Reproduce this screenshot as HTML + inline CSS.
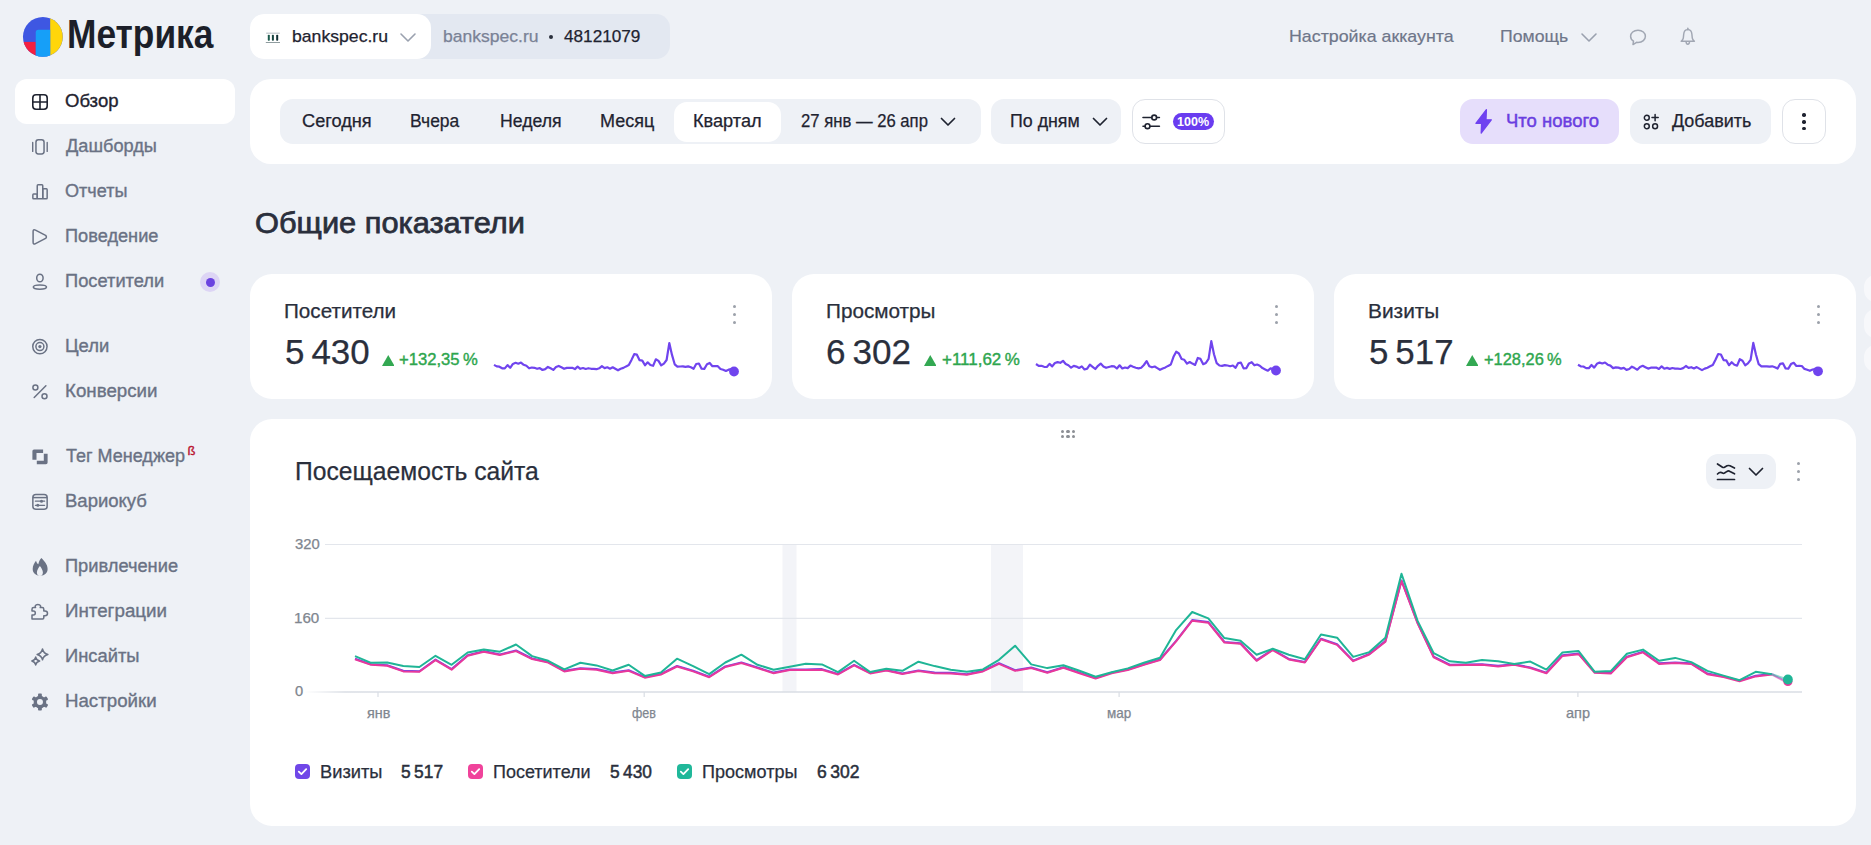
<!DOCTYPE html>
<html><head><meta charset="utf-8"><title>Метрика</title>
<style>
html,body{margin:0;padding:0;}
body{width:1871px;height:845px;background:#eef1f6;position:relative;overflow:hidden;font-family:"Liberation Sans", sans-serif;}
.t{position:absolute;line-height:1;white-space:nowrap;}
</style></head><body>
<svg style="position:absolute;left:22px;top:16px;" width="42" height="42" viewBox="0 0 42 42">
<defs><clipPath id="lc"><circle cx="20.85" cy="20.85" r="19.9"/></clipPath></defs>
<g clip-path="url(#lc)">
<rect x="0" y="0" width="42" height="42" fill="#3e57e2"/>
<rect x="28.2" y="0" width="14" height="42" fill="#ffd60a"/>
<rect x="0" y="25.9" width="13.75" height="17" fill="#f42041"/>
<path d="M16.25 13.75 H28.2 V42 H13.75 V16.25 Q13.75 13.75 16.25 13.75 Z" fill="#169ff8"/>
</g></svg>
<div style="position:absolute;left:250px;top:14px;width:420px;height:44.5px;background:#e3e8f1;border-radius:14px;"></div>
<div style="position:absolute;left:250px;top:14px;width:181px;height:44.5px;background:#ffffff;border-radius:14px;"></div>
<svg style="position:absolute;left:265px;top:28px;" width="17" height="17" viewBox="0 0 17 17"><rect x="2.8" y="6.7" width="2" height="6.1" rx="0.8" fill="#1b5a4c"/><rect x="6.9" y="6.7" width="2" height="6.1" rx="0.8" fill="#16443f"/>
<rect x="11.2" y="6.7" width="2" height="6.1" rx="0.8" fill="#0f2f33"/><rect x="0.8" y="14" width="14.2" height="1" fill="#8f9c9f"/><rect x="1.2" y="4.7" width="13.6" height="0.9" fill="#a9b3b8"/></svg>
<svg style="position:absolute;left:399px;top:31px;" width="18" height="12" viewBox="0 0 18 12"><path d="M2 3 L9 10 L16 3" fill="none" stroke="#9aa1af" stroke-width="1.6" stroke-linecap="round" stroke-linejoin="round"/></svg>
<div style="position:absolute;left:549px;top:34.7px;width:4px;height:4px;background:#2a2f3c;border-radius:50%;"></div>
<svg style="position:absolute;left:1580px;top:31px;" width="18" height="12" viewBox="0 0 18 12"><path d="M2 3 L9 10 L16 3" fill="none" stroke="#9aa1af" stroke-width="1.6" stroke-linecap="round" stroke-linejoin="round"/></svg>
<svg style="position:absolute;left:1628px;top:27px;" width="20" height="20" viewBox="0 0 20 20"><path d="M10 3.2 C5.6 3.2 2.6 5.9 2.6 9.3 C2.6 11.4 3.7 13.1 5.5 14.2 L5 17.6 L8.6 15.3 C9.1 15.4 9.5 15.4 10 15.4 C14.4 15.4 17.4 12.7 17.4 9.3 C17.4 5.9 14.4 3.2 10 3.2 Z" fill="none" stroke="#a1a7b3" stroke-width="1.5" stroke-linejoin="round"/></svg>
<svg style="position:absolute;left:1678px;top:26px;" width="20" height="21" viewBox="0 0 20 21"><path d="M9.8 3.6 C7.2 3.6 5.9 5.6 5.7 8.3 L5.3 12.1 C5.1 13.6 4.2 14.4 3.2 15.3 H16.4 C15.4 14.4 14.5 13.6 14.3 12.1 L13.9 8.3 C13.7 5.6 12.4 3.6 9.8 3.6 Z" fill="none" stroke="#a1a7b3" stroke-width="1.45" stroke-linejoin="round"/><path d="M8.1 15.6 Q8.1 18.3 9.8 18.3 Q11.5 18.3 11.5 15.6" fill="none" stroke="#a1a7b3" stroke-width="1.45"/><path d="M9.8 2.2 V3.6" stroke="#a1a7b3" stroke-width="1.6" stroke-linecap="round"/></svg>
<div style="position:absolute;left:15px;top:79px;width:219.5px;height:45px;background:#ffffff;border-radius:12px;"></div>
<svg style="position:absolute;left:0;top:0" width="250" height="845">
<rect x="32.8" y="94.8" width="14.4" height="14.4" rx="3.2" fill="none" stroke="#1f2330" stroke-width="1.6"/>
<path d="M40 94.8 V109.2 M32.8 102 H47.2" stroke="#1f2330" stroke-width="1.6"/>
<rect x="35.95" y="139.75" width="8.1" height="14.2" rx="2.4" fill="none" stroke="#6a7284" stroke-width="1.5"/>
<path d="M32.7 142.4 V151.4 M47.2 142.4 V151.4" stroke="#6a7284" stroke-width="1.4" stroke-linecap="round"/>
<g fill="none" stroke="#6a7284" stroke-width="1.5" stroke-linejoin="round">
<rect x="32.85" y="194.1" width="4.4" height="4.75" rx="0.8"/>
<rect x="37.25" y="184.85" width="5.5" height="14" rx="0.8"/>
<rect x="42.75" y="188.85" width="4.4" height="10" rx="0.8"/>
<path d="M33.1 231.6 Q33.1 228.9 35.5 230.2 L45.6 235.4 Q47.2 236.9 45.6 238.4 L35.5 243.6 Q33.1 244.9 33.1 242.2 Z"/>
<ellipse cx="39.9" cy="278" rx="3.2" ry="3.85"/>
<ellipse cx="39.9" cy="287.1" rx="6.6" ry="2.15"/>
<circle cx="39.9" cy="346.6" r="7.15"/>
<circle cx="39.9" cy="346.6" r="4"/>
<circle cx="35.4" cy="387.4" r="2.5"/>
<circle cx="44.5" cy="396.3" r="2.5"/>
<path d="M34.2 397.5 L45.9 385.8" stroke-linecap="round"/>
<rect x="32.85" y="494.55" width="14.3" height="14.6" rx="3"/>
<path d="M32.85 497.6 H47.15" />
<path d="M35.4 501.2 H44.6 M35.4 505.3 H44.6" stroke-width="1.3" stroke-linecap="round"/>
<path d="M32.0 619.0 V614.9 H33.4 Q35.3 614.9 35.3 612.9 Q35.3 610.9 33.4 610.9 H32.0 V609.2 Q32.0 607.6 33.6 607.6 H35.6 Q35.0 606.8 35.3 605.8 Q35.9 604.4 37.9 604.4 Q39.9 604.4 40.5 605.8 Q40.8 606.8 40.2 607.6 H42.2 Q43.8 607.6 43.8 609.2 V610.9 H45.0 Q47.5 610.9 47.5 613.3 Q47.5 615.8 45.0 615.8 H43.8 V617.8 Q43.8 619.0 42.6 619.0 Z"/>
<path d="M42.5 649.0 Q43.472 653.428 47.9 654.4 Q43.472 655.372 42.5 659.8 Q41.528 655.372 37.1 654.4 Q41.528 653.428 42.5 649.0 Z"/>
<path d="M35.7 657.1 Q36.402 660.298 39.6 661.0 Q36.402 661.702 35.7 664.9 Q34.998000000000005 661.702 31.800000000000004 661.0 Q34.998000000000005 660.298 35.7 657.1 Z"/>
</g>
<circle cx="39.9" cy="346.6" r="1.6" fill="#6a7284"/>
<circle cx="41.5" cy="501.2" r="1.5" fill="#6a7284"/>
<circle cx="37.8" cy="505.3" r="1.5" fill="#6a7284"/>
<path d="M34 449.4 H43.1 V452.9 H36.5 V459.8 H32.4 V451 Q32.4 449.4 34 449.4 Z" fill="#6a7284"/>
<path d="M36.8 460.8 H43.8 V453.7 H47.6 V462.6 Q47.6 464.2 46 464.2 H36.8 Z" fill="#6a7284"/>
<path d="M41.4 558.1 C44 561 47.6 564.3 47.6 568.9 C47.6 572.8 44.8 575.6 40.2 575.6 C35.6 575.6 32.7 572.8 32.7 568.9 C32.7 565.6 34.3 563.3 36 560.8 C36.6 562.6 37.3 563.6 38.3 564.3 C38.8 561.8 39.8 559.8 41.4 558.1 Z" fill="#6a7284"/>
<path d="M39.9 565.9 C41.1 567.6 42.9 569.8 42.9 572.4 C42.9 574.6 41.5 576 39.9 576 C38.3 576 36.9 574.6 36.9 572.4 C36.9 569.8 38.7 567.6 39.9 565.9 Z" fill="#eef1f6"/>
<circle cx="39.95" cy="702.1" r="6.3" fill="#6a7284"/>
<rect x="38.05" y="693.6" width="3.8" height="4" rx="0.8" fill="#6a7284" transform="rotate(0 39.95 702.1)"/><rect x="38.05" y="693.6" width="3.8" height="4" rx="0.8" fill="#6a7284" transform="rotate(60 39.95 702.1)"/><rect x="38.05" y="693.6" width="3.8" height="4" rx="0.8" fill="#6a7284" transform="rotate(120 39.95 702.1)"/><rect x="38.05" y="693.6" width="3.8" height="4" rx="0.8" fill="#6a7284" transform="rotate(180 39.95 702.1)"/><rect x="38.05" y="693.6" width="3.8" height="4" rx="0.8" fill="#6a7284" transform="rotate(240 39.95 702.1)"/><rect x="38.05" y="693.6" width="3.8" height="4" rx="0.8" fill="#6a7284" transform="rotate(300 39.95 702.1)"/>
<circle cx="39.95" cy="702.1" r="3.0" fill="#eef1f6"/>
</svg>
<div style="position:absolute;left:200px;top:272px;width:20px;height:20px;background:#ddd5f5;border-radius:50%;"></div>
<div style="position:absolute;left:205.5px;top:277.5px;width:9px;height:9px;background:#6b43e0;border-radius:50%;"></div>
<div class="t" style="left:187.6px;top:444px;font-size:13px;color:#b9142e;font-weight:400;-webkit-text-stroke:0.35px #b9142e;">ß</div>
<div style="position:absolute;left:250px;top:79px;width:1606px;height:85px;background:#ffffff;border-radius:21px;"></div>
<div style="position:absolute;left:280px;top:99px;width:700.5px;height:44.5px;background:#eef1f6;border-radius:13px;"></div>
<div style="position:absolute;left:674px;top:102px;width:107px;height:40px;background:#ffffff;border-radius:13px;"></div>
<svg style="position:absolute;left:939px;top:115px;" width="18" height="13" viewBox="0 0 18 13"><path d="M2.5 3.5 L9 10 L15.5 3.5" fill="none" stroke="#1f2330" stroke-width="1.7" stroke-linecap="round" stroke-linejoin="round"/></svg>
<div style="position:absolute;left:991px;top:99px;width:130px;height:44.5px;background:#eef1f6;border-radius:13px;"></div>
<svg style="position:absolute;left:1091px;top:115px;" width="18" height="13" viewBox="0 0 18 13"><path d="M2.5 3.5 L9 10 L15.5 3.5" fill="none" stroke="#1f2330" stroke-width="1.7" stroke-linecap="round" stroke-linejoin="round"/></svg>
<div style="position:absolute;left:1131.5px;top:99px;width:91.5px;height:42.5px;background:#fff;border:1px solid #dfe2e8;border-radius:13px;"></div>
<svg style="position:absolute;left:1141px;top:112px;" width="20" height="18" viewBox="0 0 20 18"><path d="M2 5.5 H10.8 M15.6 5.5 H18.4 M2 14.2 H4.1 M8.9 14.2 H18.4" stroke="#1f2330" stroke-width="1.6" stroke-linecap="round"/><circle cx="13.2" cy="5.5" r="2.4" fill="none" stroke="#1f2330" stroke-width="1.6"/><circle cx="6.5" cy="14.2" r="2.4" fill="none" stroke="#1f2330" stroke-width="1.6"/></svg>
<div style="position:absolute;left:1173px;top:113px;width:41px;height:16.8px;background:#6a3cf0;border-radius:9px;"></div>
<div style="position:absolute;left:1460px;top:99px;width:159px;height:45px;background:#e6defb;border-radius:13px;"></div>
<svg style="position:absolute;left:1473px;top:107px;" width="21" height="29" viewBox="0 0 21 29"><path d="M13.4 2.6 L2.9 16.3 H8.6 L8.2 26.0 L18.3 12.8 H13.0 Z" fill="#6f42f0" stroke="#6f42f0" stroke-width="1.3" stroke-linejoin="round"/></svg>
<div style="position:absolute;left:1629.5px;top:99px;width:141.5px;height:45px;background:#eef1f6;border-radius:13px;"></div>
<svg style="position:absolute;left:1642px;top:113px;" width="18" height="17" viewBox="0 0 18 17"><circle cx="4.8" cy="4.7" r="2.45" fill="none" stroke="#1f2330" stroke-width="1.5"/><circle cx="4.8" cy="13.2" r="2.45" fill="none" stroke="#1f2330" stroke-width="1.5"/><circle cx="13.1" cy="13.2" r="2.45" fill="none" stroke="#1f2330" stroke-width="1.5"/><path d="M13.1 1.5 V7.7 M10.0 4.6 H16.2" stroke="#1f2330" stroke-width="1.5" stroke-linecap="round"/></svg>
<div style="position:absolute;left:1781.5px;top:99px;width:42px;height:43px;background:#fff;border:1px solid #dfe2e8;border-radius:13px;"></div>
<div style="position:absolute;left:1802.3px;top:113.3px;width:3.4px;height:3.4px;background:#1f2330;border-radius:50%;"></div>
<div style="position:absolute;left:1802.3px;top:120.3px;width:3.4px;height:3.4px;background:#1f2330;border-radius:50%;"></div>
<div style="position:absolute;left:1802.3px;top:127.10000000000001px;width:3.4px;height:3.4px;background:#1f2330;border-radius:50%;"></div>
<div style="position:absolute;left:250px;top:274px;width:522px;height:125px;background:#ffffff;border-radius:22px;"></div>
<div style="position:absolute;left:732.6999999999999px;top:304.8px;width:3.4px;height:3.4px;background:#9ca1aa;border-radius:50%;"></div>
<div style="position:absolute;left:732.6999999999999px;top:312.8px;width:3.4px;height:3.4px;background:#9ca1aa;border-radius:50%;"></div>
<div style="position:absolute;left:732.6999999999999px;top:320.7px;width:3.4px;height:3.4px;background:#9ca1aa;border-radius:50%;"></div>
<div style="position:absolute;left:792px;top:274px;width:522px;height:125px;background:#ffffff;border-radius:22px;"></div>
<div style="position:absolute;left:1274.7px;top:304.8px;width:3.4px;height:3.4px;background:#9ca1aa;border-radius:50%;"></div>
<div style="position:absolute;left:1274.7px;top:312.8px;width:3.4px;height:3.4px;background:#9ca1aa;border-radius:50%;"></div>
<div style="position:absolute;left:1274.7px;top:320.7px;width:3.4px;height:3.4px;background:#9ca1aa;border-radius:50%;"></div>
<div style="position:absolute;left:1334px;top:274px;width:522px;height:125px;background:#ffffff;border-radius:22px;"></div>
<div style="position:absolute;left:1816.7px;top:304.8px;width:3.4px;height:3.4px;background:#9ca1aa;border-radius:50%;"></div>
<div style="position:absolute;left:1816.7px;top:312.8px;width:3.4px;height:3.4px;background:#9ca1aa;border-radius:50%;"></div>
<div style="position:absolute;left:1816.7px;top:320.7px;width:3.4px;height:3.4px;background:#9ca1aa;border-radius:50%;"></div>
<svg style="position:absolute;left:381.7px;top:354.5px;" width="12.5" height="11" viewBox="0 0 12.5 11"><path d="M6.25 0 L12.5 11 H0 Z" fill="#33a852"/></svg>
<svg style="position:absolute;left:923.8px;top:354.5px;" width="12.5" height="11" viewBox="0 0 12.5 11"><path d="M6.25 0 L12.5 11 H0 Z" fill="#33a852"/></svg>
<svg style="position:absolute;left:1465.8px;top:354.5px;" width="12.5" height="11" viewBox="0 0 12.5 11"><path d="M6.25 0 L12.5 11 H0 Z" fill="#33a852"/></svg>
<svg style="position:absolute;left:0;top:0" width="1871" height="845"><path d="M494.0 364.9 L496.7 366.4 L499.4 366.7 L502.1 368.3 L504.8 368.4 L507.5 365.1 L510.2 367.8 L512.9 363.9 L515.6 362.8 L518.3 363.7 L521.0 362.6 L523.7 364.8 L526.4 365.8 L529.1 368.3 L531.8 367.5 L534.4 367.8 L537.1 368.8 L539.8 368.1 L542.5 370.0 L545.2 369.1 L547.9 366.9 L550.6 368.3 L553.3 369.9 L556.0 367.0 L558.7 365.9 L561.4 367.3 L564.1 368.8 L566.8 367.9 L569.5 367.9 L572.2 367.8 L574.9 369.1 L577.6 366.6 L580.3 368.8 L583.0 368.0 L585.7 369.0 L588.4 368.2 L591.1 368.8 L593.8 368.8 L596.5 369.2 L599.2 368.3 L601.9 366.2 L604.6 368.1 L607.3 367.3 L610.0 368.7 L612.7 367.3 L615.3 368.8 L618.0 370.3 L620.7 368.8 L623.4 367.9 L626.1 366.4 L628.8 365.1 L631.5 359.9 L634.2 354.2 L636.9 354.7 L639.6 360.2 L642.3 360.6 L645.0 365.3 L647.7 362.3 L650.4 365.0 L653.1 365.8 L655.8 359.3 L658.5 360.9 L661.2 365.4 L663.9 363.6 L666.6 360.0 L669.3 343.1 L672.0 354.9 L674.7 364.3 L677.4 366.6 L680.1 366.5 L682.8 366.4 L685.5 366.9 L688.2 366.4 L690.9 367.3 L693.6 368.8 L696.2 364.0 L698.9 363.5 L701.6 368.7 L704.3 368.9 L707.0 364.3 L709.7 363.0 L712.4 366.2 L715.1 366.0 L717.8 366.2 L720.5 369.0 L723.2 369.8 L725.9 371.0 L728.6 369.7 L731.3 369.2 L734.0 371.5" fill="none" stroke="#7044ee" stroke-width="2.2" stroke-linejoin="round"/><circle cx="734.0" cy="371.5" r="4.9" fill="#7044ee"/></svg>
<svg style="position:absolute;left:0;top:0" width="1871" height="845"><path d="M1036.0 364.0 L1038.7 365.9 L1041.4 365.8 L1044.1 366.8 L1046.8 367.0 L1049.5 363.9 L1052.2 366.4 L1054.9 363.0 L1057.6 362.1 L1060.3 362.8 L1063.0 360.8 L1065.7 364.0 L1068.4 365.3 L1071.1 367.7 L1073.8 365.9 L1076.4 366.6 L1079.1 368.0 L1081.8 366.4 L1084.5 369.5 L1087.2 368.6 L1089.9 364.7 L1092.6 366.8 L1095.3 369.0 L1098.0 365.8 L1100.7 363.6 L1103.4 366.4 L1106.1 367.8 L1108.8 367.0 L1111.5 366.2 L1114.2 366.3 L1116.9 368.5 L1119.6 365.3 L1122.3 368.5 L1125.0 367.5 L1127.7 368.1 L1130.4 365.6 L1133.1 366.8 L1135.8 367.8 L1138.5 368.4 L1141.2 367.7 L1143.9 365.0 L1146.6 361.1 L1149.3 366.3 L1152.0 367.3 L1154.7 366.5 L1157.3 368.1 L1160.0 369.8 L1162.7 368.5 L1165.4 367.4 L1168.1 365.9 L1170.8 364.5 L1173.5 356.8 L1176.2 351.7 L1178.9 353.5 L1181.6 359.0 L1184.3 359.8 L1187.0 363.6 L1189.7 362.0 L1192.4 363.6 L1195.1 364.9 L1197.8 358.0 L1200.5 358.9 L1203.2 364.2 L1205.9 362.9 L1208.6 358.9 L1211.3 341.1 L1214.0 354.2 L1216.7 363.2 L1219.4 365.5 L1222.1 365.9 L1224.8 365.1 L1227.5 365.5 L1230.2 366.2 L1232.9 365.5 L1235.6 367.8 L1238.2 363.0 L1240.9 362.6 L1243.6 368.4 L1246.3 368.2 L1249.0 363.4 L1251.7 362.2 L1254.4 365.3 L1257.1 364.5 L1259.8 365.7 L1262.5 368.1 L1265.2 369.4 L1267.9 370.7 L1270.6 368.4 L1273.3 369.0 L1276.0 370.5" fill="none" stroke="#7044ee" stroke-width="2.2" stroke-linejoin="round"/><circle cx="1276.0" cy="370.5" r="4.9" fill="#7044ee"/></svg>
<svg style="position:absolute;left:0;top:0" width="1871" height="845"><path d="M1578.0 364.8 L1580.7 366.3 L1583.4 366.5 L1586.1 368.1 L1588.8 368.2 L1591.5 365.0 L1594.2 367.6 L1596.9 363.8 L1599.6 362.6 L1602.3 363.5 L1605.0 362.5 L1607.7 364.7 L1610.4 365.6 L1613.1 368.1 L1615.8 367.4 L1618.4 367.6 L1621.1 368.6 L1623.8 367.9 L1626.5 369.9 L1629.2 369.0 L1631.9 366.7 L1634.6 368.1 L1637.3 369.7 L1640.0 366.9 L1642.7 365.8 L1645.4 367.2 L1648.1 368.6 L1650.8 367.7 L1653.5 367.7 L1656.2 367.6 L1658.9 369.0 L1661.6 366.4 L1664.3 368.7 L1667.0 367.9 L1669.7 368.9 L1672.4 368.0 L1675.1 368.6 L1677.8 368.7 L1680.5 369.0 L1683.2 368.1 L1685.9 366.0 L1688.6 367.9 L1691.3 367.2 L1694.0 368.5 L1696.7 367.1 L1699.3 368.6 L1702.0 370.1 L1704.7 368.6 L1707.4 367.7 L1710.1 366.3 L1712.8 365.0 L1715.5 359.8 L1718.2 354.0 L1720.9 354.5 L1723.6 360.1 L1726.3 360.4 L1729.0 365.2 L1731.7 362.2 L1734.4 364.8 L1737.1 365.6 L1739.8 359.2 L1742.5 360.7 L1745.2 365.3 L1747.9 363.4 L1750.6 359.8 L1753.3 342.9 L1756.0 354.7 L1758.7 364.2 L1761.4 366.4 L1764.1 366.3 L1766.8 366.3 L1769.5 366.7 L1772.2 366.3 L1774.9 367.2 L1777.6 368.6 L1780.2 363.8 L1782.9 363.3 L1785.6 368.5 L1788.3 368.7 L1791.0 364.1 L1793.7 362.8 L1796.4 366.0 L1799.1 365.8 L1801.8 366.0 L1804.5 368.9 L1807.2 369.7 L1809.9 370.8 L1812.6 369.5 L1815.3 369.0 L1818.0 371.3" fill="none" stroke="#7044ee" stroke-width="2.2" stroke-linejoin="round"/><circle cx="1818.0" cy="371.3" r="4.9" fill="#7044ee"/></svg>
<div style="position:absolute;left:1864px;top:275px;width:30px;height:27px;background:#f7f8fb;border-radius:12px;"></div>
<div style="position:absolute;left:1864px;top:309px;width:30px;height:29px;background:#f7f8fb;border-radius:12px;"></div>
<div style="position:absolute;left:1864px;top:345px;width:30px;height:27px;background:#f7f8fb;border-radius:12px;"></div>
<div style="position:absolute;left:250px;top:419px;width:1606px;height:407px;background:#ffffff;border-radius:22px;"></div>
<div style="position:absolute;left:1060.75px;top:429.55px;width:3.3px;height:3.3px;background:#8c8f95;border-radius:50%;"></div>
<div style="position:absolute;left:1066.3px;top:429.55px;width:3.3px;height:3.3px;background:#8c8f95;border-radius:50%;"></div>
<div style="position:absolute;left:1071.85px;top:429.55px;width:3.3px;height:3.3px;background:#8c8f95;border-radius:50%;"></div>
<div style="position:absolute;left:1060.75px;top:435.05px;width:3.3px;height:3.3px;background:#8c8f95;border-radius:50%;"></div>
<div style="position:absolute;left:1066.3px;top:435.05px;width:3.3px;height:3.3px;background:#8c8f95;border-radius:50%;"></div>
<div style="position:absolute;left:1071.85px;top:435.05px;width:3.3px;height:3.3px;background:#8c8f95;border-radius:50%;"></div>
<div style="position:absolute;left:1706px;top:454px;width:70px;height:35px;background:#eef1f6;border-radius:12px;"></div>
<svg style="position:absolute;left:1716px;top:462px;" width="20" height="20" viewBox="0 0 20 20"><path d="M1.5 2 L6.5 5.2 Q7.5 5.8 8.5 5.2 L11 3.8 Q12.5 3.2 14 3.8 L18.5 6" fill="none" stroke="#1f2330" stroke-width="1.7" stroke-linecap="round"/><path d="M1.5 12 Q4 9.5 6.5 11 Q7.5 11.6 8.5 11 L11 9.4 Q12.5 8.5 14 9.5 L18.5 11.8" fill="none" stroke="#1f2330" stroke-width="1.7" stroke-linecap="round"/><path d="M1.5 17.5 H18.5" stroke="#1f2330" stroke-width="1.7" stroke-linecap="round"/></svg>
<svg style="position:absolute;left:1747px;top:466px;" width="18" height="12" viewBox="0 0 18 12"><path d="M2.5 2.5 L9 9 L15.5 2.5" fill="none" stroke="#1f2330" stroke-width="1.7" stroke-linecap="round" stroke-linejoin="round"/></svg>
<div style="position:absolute;left:1796.7px;top:462.1px;width:3.4px;height:3.4px;background:#9ca1aa;border-radius:50%;"></div>
<div style="position:absolute;left:1796.7px;top:469.90000000000003px;width:3.4px;height:3.4px;background:#9ca1aa;border-radius:50%;"></div>
<div style="position:absolute;left:1796.7px;top:477.6px;width:3.4px;height:3.4px;background:#9ca1aa;border-radius:50%;"></div>
<svg style="position:absolute;left:0;top:0" width="1871" height="845"><rect x="782.5" y="544.5" width="14" height="147.5" fill="#f3f4f8"/><rect x="991" y="544.5" width="32" height="147.5" fill="#f3f4f8"/><path d="M325 544.5 H1802" stroke="#e3e6ec" stroke-width="1.2"/><path d="M325 618.4 H1802" stroke="#e3e6ec" stroke-width="1.2"/><defs><linearGradient id="axg" gradientUnits="userSpaceOnUse" x1="304" y1="0" x2="345" y2="0"><stop offset="0" stop-color="#d9dde4" stop-opacity="0"/><stop offset="1" stop-color="#d9dde4" stop-opacity="1"/></linearGradient></defs><path d="M304 692 H1802" stroke="url(#axg)" stroke-width="1.6"/><path d="M378.0 692 V697" stroke="#d9dde4" stroke-width="1.2"/><path d="M644.2 692 V697" stroke="#d9dde4" stroke-width="1.2"/><path d="M1119.1 692 V697" stroke="#d9dde4" stroke-width="1.2"/><path d="M1577.9 692 V697" stroke="#d9dde4" stroke-width="1.2"/><path d="M355.0 658.8 L371.1 664.2 L387.2 665.2 L403.3 670.8 L419.4 671.2 L435.5 659.5 L451.6 669.1 L467.7 655.2 L483.8 651.1 L499.9 654.4 L516.0 650.5 L532.1 658.5 L548.2 661.9 L564.3 670.8 L580.4 668.2 L596.5 669.1 L612.6 672.6 L628.7 670.2 L644.8 677.1 L660.9 673.9 L677.0 665.9 L693.1 670.8 L709.2 676.6 L725.3 666.4 L741.4 662.4 L757.5 667.5 L773.6 672.6 L789.7 669.5 L805.8 669.5 L821.9 669.1 L838.0 673.9 L854.1 664.8 L870.2 672.8 L886.3 669.9 L902.4 673.5 L918.5 670.4 L934.6 672.6 L950.7 672.8 L966.8 674.2 L982.9 670.8 L999.0 663.2 L1015.1 670.2 L1031.2 667.5 L1047.3 672.2 L1063.4 667.2 L1079.5 672.6 L1095.6 678.0 L1111.7 672.6 L1127.8 669.5 L1143.9 664.2 L1160.0 659.5 L1176.1 640.8 L1192.2 620.1 L1208.3 622.1 L1224.4 641.9 L1240.5 643.2 L1256.6 660.2 L1272.7 649.5 L1288.8 658.9 L1304.9 661.9 L1321.0 638.7 L1337.1 644.3 L1353.2 660.6 L1369.3 653.9 L1385.4 641.1 L1401.5 580.4 L1417.6 622.7 L1433.7 656.7 L1449.8 664.7 L1465.9 664.4 L1482.0 664.2 L1498.1 665.8 L1514.2 664.2 L1530.3 667.4 L1546.4 672.7 L1562.5 655.3 L1578.6 653.6 L1594.7 672.2 L1610.8 673.0 L1626.9 656.6 L1643.0 651.8 L1659.1 663.3 L1675.2 662.5 L1691.3 663.3 L1707.4 673.6 L1723.5 676.4 L1739.6 680.6 L1755.7 675.8 L1771.8 674.0" fill="none" stroke="#7047e8" stroke-width="2.0" stroke-linejoin="round"/><path d="M1771.8 674.0 L1787.9 682.4" fill="none" stroke="#7047e8" stroke-width="2.0" opacity="0.45"/><path d="M355.0 659.4 L371.1 664.8 L387.2 665.8 L403.3 671.4 L419.4 671.8 L435.5 660.1 L451.6 669.7 L467.7 655.8 L483.8 651.7 L499.9 655.0 L516.0 651.1 L532.1 659.1 L548.2 662.5 L564.3 671.4 L580.4 668.8 L596.5 669.7 L612.6 673.2 L628.7 670.8 L644.8 677.7 L660.9 674.5 L677.0 666.5 L693.1 671.4 L709.2 677.2 L725.3 667.0 L741.4 663.0 L757.5 668.1 L773.6 673.2 L789.7 670.1 L805.8 670.1 L821.9 669.7 L838.0 674.5 L854.1 665.4 L870.2 673.4 L886.3 670.5 L902.4 674.1 L918.5 671.0 L934.6 673.2 L950.7 673.4 L966.8 674.8 L982.9 671.4 L999.0 663.8 L1015.1 670.8 L1031.2 668.1 L1047.3 672.8 L1063.4 667.8 L1079.5 673.2 L1095.6 678.6 L1111.7 673.2 L1127.8 670.1 L1143.9 664.8 L1160.0 660.1 L1176.1 641.4 L1192.2 620.7 L1208.3 622.7 L1224.4 642.5 L1240.5 643.8 L1256.6 660.8 L1272.7 650.1 L1288.8 659.5 L1304.9 662.5 L1321.0 639.3 L1337.1 644.9 L1353.2 661.2 L1369.3 654.5 L1385.4 641.7 L1401.5 581.0 L1417.6 623.3 L1433.7 657.3 L1449.8 665.3 L1465.9 665.0 L1482.0 664.8 L1498.1 666.4 L1514.2 664.8 L1530.3 668.0 L1546.4 673.3 L1562.5 655.9 L1578.6 654.2 L1594.7 672.8 L1610.8 673.6 L1626.9 657.2 L1643.0 652.4 L1659.1 663.9 L1675.2 663.1 L1691.3 663.9 L1707.4 674.2 L1723.5 677.0 L1739.6 681.2 L1755.7 676.4 L1771.8 674.6" fill="none" stroke="#e8389b" stroke-width="2.0" stroke-linejoin="round"/><path d="M1771.8 674.6 L1787.9 683.0" fill="none" stroke="#e8389b" stroke-width="2.0" opacity="0.45"/><path d="M355.0 656.1 L371.1 662.8 L387.2 662.5 L403.3 666.1 L419.4 667.0 L435.5 655.8 L451.6 664.8 L467.7 652.5 L483.8 649.4 L499.9 651.7 L516.0 644.5 L532.1 656.1 L548.2 660.8 L564.3 669.4 L580.4 662.8 L596.5 665.4 L612.6 670.5 L628.7 664.8 L644.8 675.9 L660.9 672.5 L677.0 658.7 L693.1 666.1 L709.2 674.1 L725.3 662.5 L741.4 654.7 L757.5 664.8 L773.6 669.7 L789.7 666.8 L805.8 663.8 L821.9 664.4 L838.0 672.1 L854.1 660.8 L870.2 672.1 L886.3 668.8 L902.4 670.8 L918.5 661.7 L934.6 666.1 L950.7 669.7 L966.8 671.8 L982.9 669.4 L999.0 659.8 L1015.1 645.7 L1031.2 664.4 L1047.3 668.1 L1063.4 665.2 L1079.5 670.8 L1095.6 676.8 L1111.7 672.2 L1127.8 668.4 L1143.9 662.8 L1160.0 657.7 L1176.1 630.1 L1192.2 612.0 L1208.3 618.4 L1224.4 638.1 L1240.5 640.8 L1256.6 654.8 L1272.7 648.8 L1288.8 654.8 L1304.9 659.2 L1321.0 634.5 L1337.1 637.7 L1353.2 656.9 L1369.3 652.1 L1385.4 637.7 L1401.5 573.8 L1417.6 620.9 L1433.7 653.2 L1449.8 661.3 L1465.9 662.8 L1482.0 660.0 L1498.1 661.3 L1514.2 664.0 L1530.3 661.6 L1546.4 669.6 L1562.5 652.4 L1578.6 651.0 L1594.7 671.8 L1610.8 671.1 L1626.9 653.8 L1643.0 649.6 L1659.1 660.7 L1675.2 657.9 L1691.3 662.1 L1707.4 670.9 L1723.5 675.6 L1739.6 680.2 L1755.7 671.8 L1771.8 674.2" fill="none" stroke="#1fb596" stroke-width="2.0" stroke-linejoin="round"/><path d="M1771.8 674.2 L1787.9 679.5" fill="none" stroke="#1fb596" stroke-width="2.0" opacity="0.45"/><circle cx="1787.9" cy="681.5" r="4.6" fill="#e8389b"/><circle cx="1787.9" cy="679.5" r="4.9" fill="#1fb596"/></svg>
<svg style="position:absolute;left:295px;top:764px;" width="15" height="15" viewBox="0 0 15 15"><rect x="0" y="0" width="15" height="15" rx="4" fill="#7047e8"/><path d="M3.8 7.6 L6.4 10.1 L11.2 5.2" fill="none" stroke="#fff" stroke-width="1.8" stroke-linecap="round" stroke-linejoin="round"/></svg>
<svg style="position:absolute;left:468.3px;top:764px;" width="15" height="15" viewBox="0 0 15 15"><rect x="0" y="0" width="15" height="15" rx="4" fill="#f0439b"/><path d="M3.8 7.6 L6.4 10.1 L11.2 5.2" fill="none" stroke="#fff" stroke-width="1.8" stroke-linecap="round" stroke-linejoin="round"/></svg>
<svg style="position:absolute;left:677px;top:764px;" width="15" height="15" viewBox="0 0 15 15"><rect x="0" y="0" width="15" height="15" rx="4" fill="#20b89a"/><path d="M3.8 7.6 L6.4 10.1 L11.2 5.2" fill="none" stroke="#fff" stroke-width="1.8" stroke-linecap="round" stroke-linejoin="round"/></svg>
<div class="t" id="logo" style="left:67.43px;top:14.00px;font-size:41px;color:#1c1f29;font-weight:700;transform:scaleX(0.8609);transform-origin:0 0;">Метрика</div>
<div class="t" id="site1" style="left:292.26px;top:28.00px;font-size:17px;color:#1f2330;font-weight:400;transform:scaleX(1.0369);transform-origin:0 0;-webkit-text-stroke:0.25px #1f2330;">bankspec.ru</div>
<div class="t" id="site2" style="left:442.97px;top:28.00px;font-size:17px;color:#7a8296;font-weight:400;transform:scaleX(1.0314);transform-origin:0 0;-webkit-text-stroke:0.25px #7a8296;">bankspec.ru</div>
<div class="t" id="cid" style="left:564.05px;top:28.00px;font-size:17px;color:#1f2330;font-weight:400;transform:scaleX(1.0100);transform-origin:0 0;-webkit-text-stroke:0.25px #1f2330;">48121079</div>
<div class="t" id="acc" style="left:1289.39px;top:28.00px;font-size:17px;color:#6e7689;font-weight:400;transform:scaleX(1.0464);transform-origin:0 0;-webkit-text-stroke:0.2px #6e7689;">Настройка аккаунта</div>
<div class="t" id="help" style="left:1499.50px;top:28.00px;font-size:17px;color:#6e7689;font-weight:400;transform:scaleX(1.0384);transform-origin:0 0;-webkit-text-stroke:0.2px #6e7689;">Помощь</div>
<div class="t" id="nav0" style="left:65.11px;top:93.00px;font-size:17.5px;color:#1f2330;font-weight:400;transform:scaleX(1.0579);transform-origin:0 0;-webkit-text-stroke:0.35px #1f2330;">Обзор</div>
<div class="t" id="nav1" style="left:65.90px;top:138.00px;font-size:17.5px;color:#6a7284;font-weight:400;transform:scaleX(1.0393);transform-origin:0 0;-webkit-text-stroke:0.35px #6a7284;">Дашборды</div>
<div class="t" id="nav2" style="left:65.13px;top:183.00px;font-size:17.5px;color:#6a7284;font-weight:400;transform:scaleX(1.0332);transform-origin:0 0;-webkit-text-stroke:0.35px #6a7284;">Отчеты</div>
<div class="t" id="nav3" style="left:64.60px;top:228.00px;font-size:17.5px;color:#6a7284;font-weight:400;transform:scaleX(1.0398);transform-origin:0 0;-webkit-text-stroke:0.35px #6a7284;">Поведение</div>
<div class="t" id="nav4" style="left:64.59px;top:273.00px;font-size:17.5px;color:#6a7284;font-weight:400;transform:scaleX(1.0447);transform-origin:0 0;-webkit-text-stroke:0.35px #6a7284;">Посетители</div>
<div class="t" id="nav5" style="left:64.59px;top:338.00px;font-size:17.5px;color:#6a7284;font-weight:400;transform:scaleX(1.0516);transform-origin:0 0;-webkit-text-stroke:0.35px #6a7284;">Цели</div>
<div class="t" id="nav6" style="left:64.56px;top:383.00px;font-size:17.5px;color:#6a7284;font-weight:400;transform:scaleX(1.0694);transform-origin:0 0;-webkit-text-stroke:0.35px #6a7284;">Конверсии</div>
<div class="t" id="nav7" style="left:65.64px;top:448.00px;font-size:17.5px;color:#6a7284;font-weight:400;transform:scaleX(1.0292);transform-origin:0 0;-webkit-text-stroke:0.35px #6a7284;">Тег Менеджер</div>
<div class="t" id="nav8" style="left:64.58px;top:493.00px;font-size:17.5px;color:#6a7284;font-weight:400;transform:scaleX(1.0574);transform-origin:0 0;-webkit-text-stroke:0.35px #6a7284;">Вариокуб</div>
<div class="t" id="nav9" style="left:64.60px;top:558.00px;font-size:17.5px;color:#6a7284;font-weight:400;transform:scaleX(1.0432);transform-origin:0 0;-webkit-text-stroke:0.35px #6a7284;">Привлечение</div>
<div class="t" id="nav10" style="left:64.56px;top:603.00px;font-size:17.5px;color:#6a7284;font-weight:400;transform:scaleX(1.0710);transform-origin:0 0;-webkit-text-stroke:0.35px #6a7284;">Интеграции</div>
<div class="t" id="nav11" style="left:64.59px;top:648.00px;font-size:17.5px;color:#6a7284;font-weight:400;transform:scaleX(1.0487);transform-origin:0 0;-webkit-text-stroke:0.35px #6a7284;">Инсайты</div>
<div class="t" id="nav12" style="left:64.57px;top:693.00px;font-size:17.5px;color:#6a7284;font-weight:400;transform:scaleX(1.0671);transform-origin:0 0;-webkit-text-stroke:0.35px #6a7284;">Настройки</div>
<div class="t" id="tb0" style="left:301.62px;top:113.00px;font-size:17.5px;color:#1f2330;font-weight:400;transform:scaleX(1.0391);transform-origin:0 0;-webkit-text-stroke:0.25px #1f2330;">Сегодня</div>
<div class="t" id="tb1" style="left:410.25px;top:113.00px;font-size:17.5px;color:#1f2330;font-weight:400;transform:scaleX(0.9969);transform-origin:0 0;-webkit-text-stroke:0.25px #1f2330;">Вчера</div>
<div class="t" id="tb2" style="left:499.54px;top:113.00px;font-size:17.5px;color:#1f2330;font-weight:400;transform:scaleX(1.0077);transform-origin:0 0;-webkit-text-stroke:0.25px #1f2330;">Неделя</div>
<div class="t" id="tb3" style="left:600.01px;top:113.00px;font-size:17.5px;color:#1f2330;font-weight:400;transform:scaleX(1.0302);transform-origin:0 0;-webkit-text-stroke:0.25px #1f2330;">Месяц</div>
<div class="t" id="tb4" style="left:693.10px;top:113.00px;font-size:17.5px;color:#1f2330;font-weight:400;transform:scaleX(1.0369);transform-origin:0 0;-webkit-text-stroke:0.25px #1f2330;">Квартал</div>
<div class="t" id="tb5" style="left:801.29px;top:113.00px;font-size:17.5px;color:#1f2330;font-weight:400;transform:scaleX(0.9523);transform-origin:0 0;-webkit-text-stroke:0.25px #1f2330;">27 янв — 26 апр</div>
<div class="t" id="bydays" style="left:1010.13px;top:113.00px;font-size:17.5px;color:#1f2330;font-weight:400;transform:scaleX(1.0174);transform-origin:0 0;-webkit-text-stroke:0.25px #1f2330;">По дням</div>
<div class="t" id="badge" style="left:1177.48px;top:115.00px;font-size:13px;color:#ffffff;font-weight:700;transform:scaleX(0.9643);transform-origin:0 0;">100%</div>
<div class="t" id="whatsnew" style="left:1506.44px;top:113.00px;font-size:17.5px;color:#6a3ee0;font-weight:400;transform:scaleX(1.0578);transform-origin:0 0;-webkit-text-stroke:0.45px #6a3ee0;">Что нового</div>
<div class="t" id="add" style="left:1672.20px;top:113.00px;font-size:17.5px;color:#1f2330;font-weight:400;transform:scaleX(1.0267);transform-origin:0 0;-webkit-text-stroke:0.25px #1f2330;">Добавить</div>
<div class="t" id="title" style="left:254.87px;top:208.00px;font-size:30px;color:#2a2f3c;font-weight:400;transform:scaleX(1.0257);transform-origin:0 0;-webkit-text-stroke:0.75px #2a2f3c;">Общие показатели</div>
<div class="t" id="cl0" style="left:284.25px;top:301.00px;font-size:20px;color:#2a2f3c;font-weight:400;transform:scaleX(1.0326);transform-origin:0 0;-webkit-text-stroke:0.25px #2a2f3c;">Посетители</div>
<div class="t" id="cn0" style="left:284.75px;top:334.00px;font-size:35px;color:#2a2f3c;font-weight:400;transform:scaleX(0.9970);transform-origin:0 0;-webkit-text-stroke:0.25px #2a2f3c;">5 430</div>
<div class="t" id="cp0" style="left:399.40px;top:351.00px;font-size:16.5px;color:#2ea64e;font-weight:400;transform:scaleX(1.0084);transform-origin:0 0;-webkit-text-stroke:0.4px #2ea64e;">+132,35 %</div>
<div class="t" id="cl1" style="left:826.25px;top:301.00px;font-size:20px;color:#2a2f3c;font-weight:400;transform:scaleX(1.0359);transform-origin:0 0;-webkit-text-stroke:0.25px #2a2f3c;">Просмотры</div>
<div class="t" id="cn1" style="left:826.25px;top:334.00px;font-size:35px;color:#2a2f3c;font-weight:400;transform:scaleX(1.0025);transform-origin:0 0;-webkit-text-stroke:0.25px #2a2f3c;">6 302</div>
<div class="t" id="cp1" style="left:942.29px;top:351.00px;font-size:16.5px;color:#2ea64e;font-weight:400;transform:scaleX(1.0288);transform-origin:0 0;-webkit-text-stroke:0.4px #2ea64e;">+111,62 %</div>
<div class="t" id="cl2" style="left:1368.23px;top:301.00px;font-size:20px;color:#2a2f3c;font-weight:400;transform:scaleX(1.0433);transform-origin:0 0;-webkit-text-stroke:0.25px #2a2f3c;">Визиты</div>
<div class="t" id="cn2" style="left:1368.75px;top:334.00px;font-size:35px;color:#2a2f3c;font-weight:400;transform:scaleX(0.9963);transform-origin:0 0;-webkit-text-stroke:0.25px #2a2f3c;">5 517</div>
<div class="t" id="cp2" style="left:1484.30px;top:351.00px;font-size:16.5px;color:#2ea64e;font-weight:400;transform:scaleX(0.9955);transform-origin:0 0;-webkit-text-stroke:0.4px #2ea64e;">+128,26 %</div>
<div class="t" id="ctitle" style="left:294.53px;top:459.00px;font-size:25px;color:#2a2f3c;font-weight:400;transform:scaleX(0.9867);transform-origin:0 0;-webkit-text-stroke:0.25px #2a2f3c;">Посещаемость сайта</div>
<div class="t" id="y320" style="left:294.96px;top:538.00px;font-size:13.75px;color:#80868f;font-weight:400;transform:scaleX(1.0773);transform-origin:0 0;-webkit-text-stroke:0.25px #80868f;">320</div>
<div class="t" id="y160" style="left:294.40px;top:612.00px;font-size:13.75px;color:#80868f;font-weight:400;transform:scaleX(1.1023);transform-origin:0 0;-webkit-text-stroke:0.25px #80868f;">160</div>
<div class="t" id="y0" style="left:294.97px;top:685.00px;font-size:13.75px;color:#80868f;font-weight:400;transform:scaleX(1.0667);transform-origin:0 0;-webkit-text-stroke:0.25px #80868f;">0</div>
<div class="t" id="m0" style="left:366.50px;top:707.00px;font-size:13.75px;color:#80868f;font-weight:400;transform:scaleX(1.0455);transform-origin:0 0;-webkit-text-stroke:0.25px #80868f;">янв</div>
<div class="t" id="m1" style="left:632.24px;top:707.00px;font-size:13.75px;color:#80868f;font-weight:400;transform:scaleX(0.9109);transform-origin:0 0;-webkit-text-stroke:0.25px #80868f;">фев</div>
<div class="t" id="m2" style="left:1106.87px;top:707.00px;font-size:13.75px;color:#80868f;font-weight:400;transform:scaleX(0.9787);transform-origin:0 0;-webkit-text-stroke:0.25px #80868f;">мар</div>
<div class="t" id="m3" style="left:1565.87px;top:707.00px;font-size:13.75px;color:#80868f;font-weight:400;transform:scaleX(1.0575);transform-origin:0 0;-webkit-text-stroke:0.25px #80868f;">апр</div>
<div class="t" id="lg0" style="left:319.60px;top:764.00px;font-size:17.5px;color:#2a2f3c;font-weight:400;transform:scaleX(1.0435);transform-origin:0 0;-webkit-text-stroke:0.25px #2a2f3c;">Визиты</div>
<div class="t" id="lv0" style="left:401.30px;top:764.00px;font-size:17.5px;color:#2a2f3c;font-weight:400;transform:scaleX(0.9915);transform-origin:0 0;-webkit-text-stroke:0.5px #2a2f3c;">5 517</div>
<div class="t" id="lg1" style="left:492.72px;top:764.00px;font-size:17.5px;color:#2a2f3c;font-weight:400;transform:scaleX(1.0275);transform-origin:0 0;-webkit-text-stroke:0.25px #2a2f3c;">Посетители</div>
<div class="t" id="lv1" style="left:610.31px;top:764.00px;font-size:17.5px;color:#2a2f3c;font-weight:400;transform:scaleX(0.9880);transform-origin:0 0;-webkit-text-stroke:0.5px #2a2f3c;">5 430</div>
<div class="t" id="lg2" style="left:702.01px;top:764.00px;font-size:17.5px;color:#2a2f3c;font-weight:400;transform:scaleX(1.0316);transform-origin:0 0;-webkit-text-stroke:0.25px #2a2f3c;">Просмотры</div>
<div class="t" id="lv2" style="left:817.20px;top:764.00px;font-size:17.5px;color:#2a2f3c;font-weight:400;transform:scaleX(0.9988);transform-origin:0 0;-webkit-text-stroke:0.5px #2a2f3c;">6 302</div>
</body></html>
